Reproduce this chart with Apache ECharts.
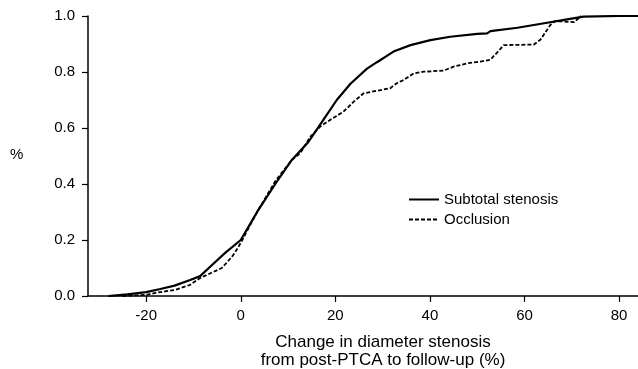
<!DOCTYPE html>
<html lang="en">
<head>
    <meta charset="UTF-8">
    <title>Change in diameter stenosis</title>
    <script src="https://cdn.jsdelivr.net/npm/echarts@6/dist/echarts.min.js"></script>
    <style>
        * {
            margin: 0;
            padding: 0;
        }

        html, body {
            width: 100%;
            height: 100%;
            overflow: hidden;
            background: #fff;
        }

        .chart {
            width: 638px;
            height: 369px;
        }
    </style>
</head>
<body>
<div class="chart"></div>
<script>
    // cumulative curves: [change %, fraction]
    let subtotal = [
        [-28, 0.0], [-24, 0.006], [-20, 0.014], [-17, 0.025], [-14, 0.037],
        [-10.7, 0.057], [-8.6, 0.071], [-6.3, 0.107], [-3.3, 0.154], [0, 0.2],
        [3.7, 0.307], [7.3, 0.4], [10.8, 0.486], [14.3, 0.55], [17.5, 0.63],
        [20.3, 0.7], [23.2, 0.758], [26.7, 0.812], [28.8, 0.835], [32.3, 0.873],
        [35.9, 0.896], [40.1, 0.914], [44.3, 0.926], [50, 0.936], [52.1, 0.938],
        [52.8, 0.946], [58.5, 0.958], [64.8, 0.976], [69, 0.988], [72.5, 0.998],
        [80, 1.0], [84, 1.0]
    ];
    let occlusion = [
        [-25, 0.0], [-20, 0.004], [-17.8, 0.012], [-13.8, 0.022], [-10.7, 0.04],
        [-8.6, 0.064], [-6.3, 0.082], [-4, 0.1], [-3, 0.118], [-1.6, 0.146],
        [-0.9, 0.164], [0, 0.19], [3.7, 0.307], [7.3, 0.41], [10.8, 0.486],
        [12.6, 0.51], [14.7, 0.569], [16.8, 0.605], [18.9, 0.629], [21.7, 0.658],
        [23.9, 0.694], [26, 0.724], [28.8, 0.733], [31.6, 0.742], [33, 0.76],
        [34.4, 0.771], [36.6, 0.795], [38.7, 0.801], [42.9, 0.805], [45, 0.819],
        [47.9, 0.831], [50.7, 0.837], [52.8, 0.844], [54.5, 0.875], [55.6, 0.896],
        [62, 0.898], [63.4, 0.916], [65.5, 0.969], [66.5, 0.982], [70.5, 0.978],
        [72, 1.0]
    ];
    let xTicks = [-20, 0, 20, 40, 60, 80];
    let seriesNames = ['Subtotal stenosis', 'Occlusion'];

    let font = '"Liberation Sans", Arial, sans-serif';
    let chart = echarts.init(document.querySelector('.chart'));

    let option = {
        animation: false,
        textStyle: {fontFamily: font},
        grid: {left: 88, right: 0, top: 16, bottom: 73, containLabel: false},
        xAxis: {
            type: 'value',
            min: -32.3,
            max: 84,
            axisLine: {onZero: false, lineStyle: {color: '#000', width: 1.5}},
            axisTick: {show: true, length: 6, customValues: xTicks, lineStyle: {color: '#000', width: 1.2}},
            axisLabel: {
                customValues: xTicks, margin: 12, color: '#000', fontSize: 15, fontFamily: font
            },
            splitLine: {show: false}
        },
        yAxis: {
            type: 'value',
            min: 0,
            max: 1,
            interval: 0.2,
            axisLine: {show: true, onZero: false, lineStyle: {color: '#000', width: 1.5}},
            axisTick: {show: true, length: 6, lineStyle: {color: '#000', width: 1.2}},
            axisLabel: {
                margin: 13, color: '#000', fontSize: 15, fontFamily: font,
                formatter: v => v.toFixed(1)
            },
            splitLine: {show: false}
        },
        legend: {
            orient: 'vertical',
            left: 403,
            top: 187,
            itemWidth: 30,
            itemHeight: 14,
            itemGap: 5,
            data: seriesNames,
            itemStyle: {opacity: 0},
            textStyle: {color: '#000', fontSize: 15, fontFamily: font}
        },
        graphic: [
            {
                type: 'text',
                left: 10,
                top: 147,
                style: {text: '%', font: '15px ' + font, fill: '#000'}
            },
            {
                type: 'text',
                x: 383,
                y: 333,
                style: {
                    text: 'Change in diameter stenosis\nfrom post-PTCA to follow-up (%)',
                    font: '17px ' + font,
                    fill: '#000',
                    align: 'center',
                    lineHeight: 18
                }
            }
        ],
        series: [
            {
                name: seriesNames[0],
                type: 'line',
                data: subtotal,
                symbol: 'none',
                lineStyle: {color: '#000', width: 2.2},
                itemStyle: {color: '#000'}
            },
            {
                name: seriesNames[1],
                type: 'line',
                data: occlusion,
                symbol: 'none',
                lineStyle: {color: '#000', width: 1.8, type: [4, 2]},
                itemStyle: {color: '#000'}
            }
        ]
    };
    chart.setOption(option);
</script>
</body>
</html>
